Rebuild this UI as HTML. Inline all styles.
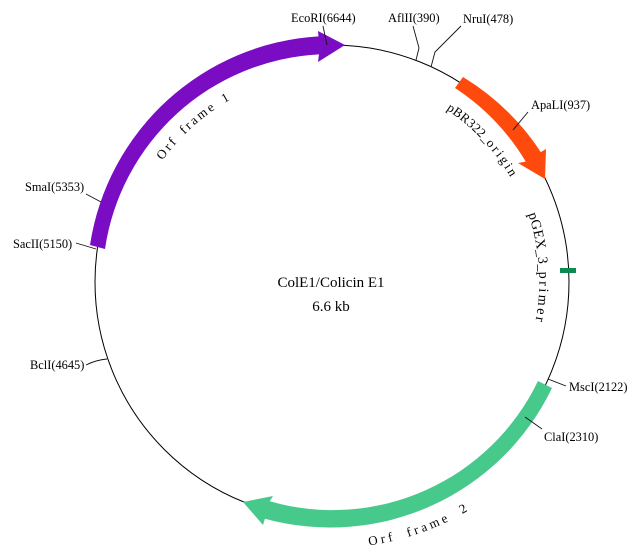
<!DOCTYPE html>
<html>
<head>
<meta charset="utf-8">
<style>
html,body{margin:0;padding:0;background:#fff;width:642px;height:550px;overflow:hidden}
svg{display:block}
text{font-family:"Liberation Serif",serif;fill:#000}
.l{font-size:12.4px}
.c{font-size:15px}
.t{font-size:13px}
</style>
</head>
<body>
<svg width="642" height="550" viewBox="0 0 642 550" xmlns="http://www.w3.org/2000/svg">
<defs>
<path id="p1" d="M162.5 160.5A209 209 0 0 1 332 73"/>
<path id="p2" d="M446.3 109.5A207 207 0 0 1 539 282"/>
<path id="p3" d="M528.2 214A207 207 0 0 1 526.5 352.8"/>
<path id="p4" d="M369 545.4A266 266 0 0 0 535.8 453"/>
</defs>

<circle cx="332" cy="282" r="237" fill="none" stroke="#000" stroke-width="1"/>

<!-- Features -->
<path d="M90 245A246 246 0 0 1 318.5 36.4L318 31L345 45L318 62L319 54.4A228 228 0 0 0 105 249Z" fill="#7a0cc4"/>
<path d="M463 77A246 246 0 0 1 540.8 152.1L546 149L545 179L518 163L525.7 161.6A228 228 0 0 0 455 88Z" fill="#ff4a0d"/>
<path d="M552 388A246 246 0 0 1 264.9 518.7L263 525L243 502L273 496L269.8 501.3A228 228 0 0 0 538 381Z" fill="#47c98c"/>
<rect x="560" y="268" width="16" height="5" fill="#0d8a50"/>

<!-- Leaders -->
<g fill="none" stroke="#111" stroke-width="0.9">
<path d="M323 26L327 45"/>
<path d="M413 26L419 48L416 60"/>
<path d="M461 26L435 52L431 67"/>
<path d="M528 112L513 130"/>
<path d="M86 194L101 202"/>
<path d="M76 243L96 249"/>
<path d="M86 365Q96 360 107 359"/>
<path d="M566 386L548 379"/>
<path d="M542 429L525 417"/>
</g>

<!-- Site labels -->
<text class="l" x="291" y="22">EcoRI(6644)</text>
<text class="l" x="388" y="22">AflII(390)</text>
<text class="l" x="463" y="23">NruI(478)</text>
<text class="l" x="531" y="109">ApaLI(937)</text>
<text class="l" x="25" y="191">SmaI(5353)</text>
<text class="l" x="13" y="248">SacII(5150)</text>
<text class="l" x="30" y="369">BclI(4645)</text>
<text class="l" x="569" y="391">MscI(2122)</text>
<text class="l" x="544" y="441">ClaI(2310)</text>

<!-- Center -->
<text class="c" x="331" y="287" text-anchor="middle">ColE1/Colicin E1</text>
<text class="c" x="331" y="311" text-anchor="middle">6.6 kb</text>

<!-- Curved labels -->
<text class="t" style="letter-spacing:2.4px;word-spacing:3px"><textPath href="#p1">Orf frame 1</textPath></text>
<text class="t"><textPath href="#p2"><tspan style="letter-spacing:.3px">pBR322_</tspan><tspan style="letter-spacing:2.2px">origin</tspan></textPath></text>
<text class="t" style="font-size:14px"><textPath href="#p3"><tspan style="letter-spacing:.3px">pGEX_3_</tspan><tspan style="letter-spacing:2.4px">primer</tspan></textPath></text>
<text class="t" style="letter-spacing:3.3px;word-spacing:5.5px"><textPath href="#p4">Orf frame 2</textPath></text>
</svg>
</body>
</html>
